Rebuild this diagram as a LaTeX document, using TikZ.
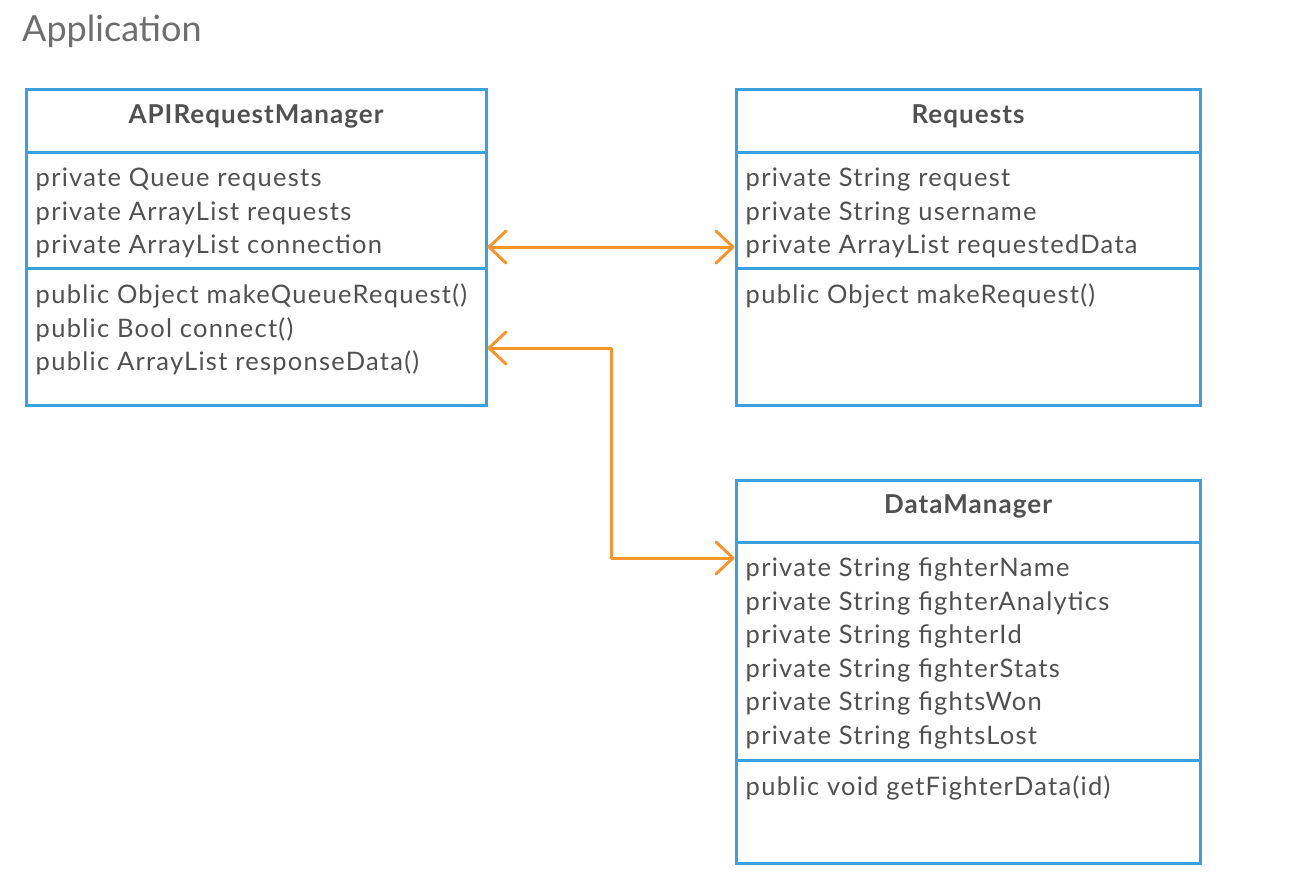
\documentclass[tikz,border=0pt]{standalone}
\usepackage{fontspec}
\setmainfont{Lato}
\usepackage{xcolor}
\usetikzlibrary{arrows.meta}

\definecolor{umlblue}{RGB}{58,160,224}
\definecolor{umlorange}{RGB}{247,148,44}
\definecolor{umltext}{RGB}{80,80,80}
\definecolor{umltitle}{RGB}{110,110,110}

\begin{document}
\begin{tikzpicture}[
    x=1pt, y=-1pt,
    every node/.style={text=umltext},
    compart/.style={draw=umlblue, line width=3pt, minimum width=460pt, inner sep=0pt},
    classname/.style={compart, minimum height=62pt, text height=20pt, text depth=15pt,
        font=\fontsize{26}{30}\selectfont\bfseries\addfontfeature{LetterSpace=4}},
    members/.style={anchor=north west, align=left, inner sep=0pt, xshift=11pt, yshift=-17.5pt,
        font=\fontsize{25.5}{33.5}\selectfont\addfontfeature{LetterSpace=5}},
    assoc/.style={draw=umlorange, line width=3pt, line cap=round, line join=round,
        {Straight Barb[length=17pt,width=32pt,round]}-{Straight Barb[length=17pt,width=32pt,round]}}
]
\useasboundingbox (0,0) rectangle (1300,888);

% Title
\node[anchor=base west, inner sep=0pt, text=umltitle, font=\fontsize{36}{40}\selectfont] (title) at (22,42) {Application};

% APIRequestManager
\node[classname] (apihead) at (256,121) {APIRequestManager};
\node[compart, minimum height=116pt] (apiattr) at (256,210) {};
\node[compart, minimum height=137pt] (apimeth) at (256,336.5) {};
\node[members] (apiattrtxt) at (apiattr.north west) {private Queue requests\\private ArrayList requests\\private ArrayList connection};
\node[members] (apimethtxt) at (apimeth.north west) {public Object makeQueueRequest()\\public Bool connect()\\public ArrayList responseData()};

% Requests
\node[classname, minimum width=464pt] (reqhead) at (968,121) {Requests};
\node[compart, minimum width=464pt, minimum height=116pt] (reqattr) at (968,210) {};
\node[compart, minimum width=464pt, minimum height=137pt] (reqmeth) at (968,336.5) {};
\node[members] (reqattrtxt) at (reqattr.north west) {private String request\\private String username\\private ArrayList requestedData};
\node[members] (reqmethtxt) at (reqmeth.north west) {public Object makeRequest()};

% DataManager
\node[classname, minimum width=464pt] (datahead) at (968,511) {DataManager};
\node[compart, minimum width=464pt, minimum height=218pt] (dataattr) at (968,651) {};
\node[compart, minimum width=464pt, minimum height=103pt] (datameth) at (968,811.5) {};
\node[members] (dataattrtxt) at (dataattr.north west) {private String fighterName\\private String fighterAnalytics\\private String fighterId\\private String fighterStats\\private String fightsWon\\private String fightsLost};
\node[members] (datamethtxt) at (datameth.north west) {public void getFighterData(id)};

% Associations
\draw[assoc] ([yshift=-37pt]apiattr.east) -- ([yshift=-37pt]reqattr.west);
\draw[assoc] ([yshift=-11.5pt]apimeth.east) -- ++(124,0) |- ([yshift=93pt]dataattr.west);

\end{tikzpicture}
\end{document}
